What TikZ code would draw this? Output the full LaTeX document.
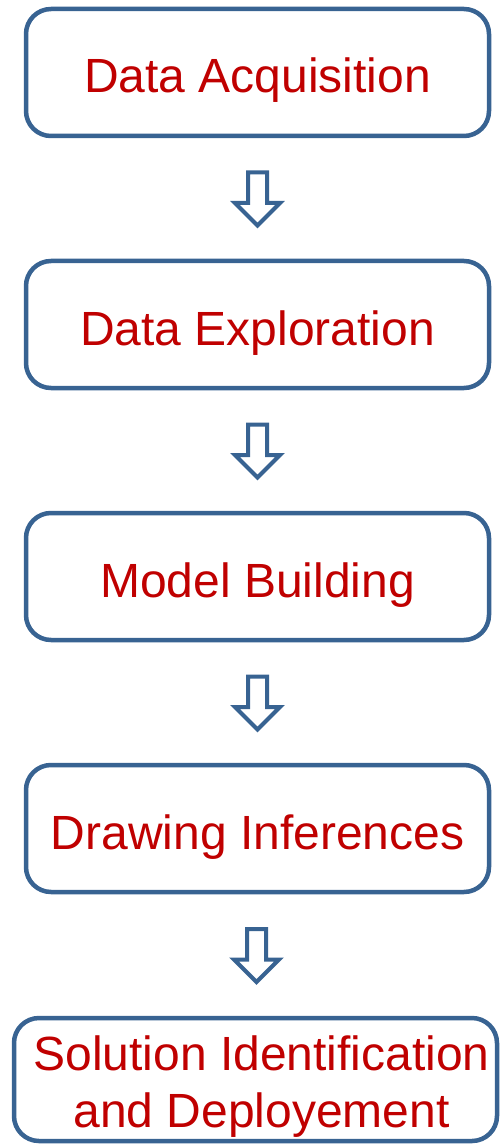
\documentclass[tikz,border=0pt]{standalone}
\usepackage{fontspec}
\setmainfont{Liberation Sans}
\usetikzlibrary{calc}
\definecolor{boxblue}{RGB}{56,99,146}
\definecolor{textred}{RGB}{192,0,0}

\begin{document}
\begin{tikzpicture}[x=0.5pt, y=-0.5pt, every node/.style={align=center,font=\fontsize{24}{28.5}\selectfont,text=textred}, stage/.style={rectangle,rounded corners=12.5pt,draw=boxblue,line width=2.25pt,fill=white,inner sep=0pt,minimum width=231.5pt,minimum height=63.5pt,text height=27.5pt,text depth=7pt}, blockarr/.style={draw=boxblue,line width=2pt,fill=white,line join=miter}]
  \useasboundingbox (0,0) rectangle (500,1144);
  \node[stage] (acq) at (257.5,72.5) {Data Acquisition};
  \node[stage] (expl) at (257.5,324.5) {Data Exploration};
  \node[stage] (model) at (257.5,576.5) {Model Building};
  \node[stage] (infer) at (257.5,828.5) {Drawing Inferences};
  \node[stage,minimum width=241.5pt,minimum height=61.5pt,text height=52pt,text depth=4.5pt] (sol) at (255.5,1079.5) {\hspace*{6pt}Solution Identification\\\hspace*{6pt}and Deployement};
  \foreach \a/\b in {acq/expl,expl/model,model/infer,infer/sol}
    \draw[blockarr] ($(\a.south)!.5!(\b.north)$) ++(-9.5,-26) -- ++(19,0) -- ++(0,30.5) -- ++(13,0) -- ++(-22.5,22.5) -- ++(-22.5,-22.5) -- ++(13,0) -- cycle;
\end{tikzpicture}
\end{document}
